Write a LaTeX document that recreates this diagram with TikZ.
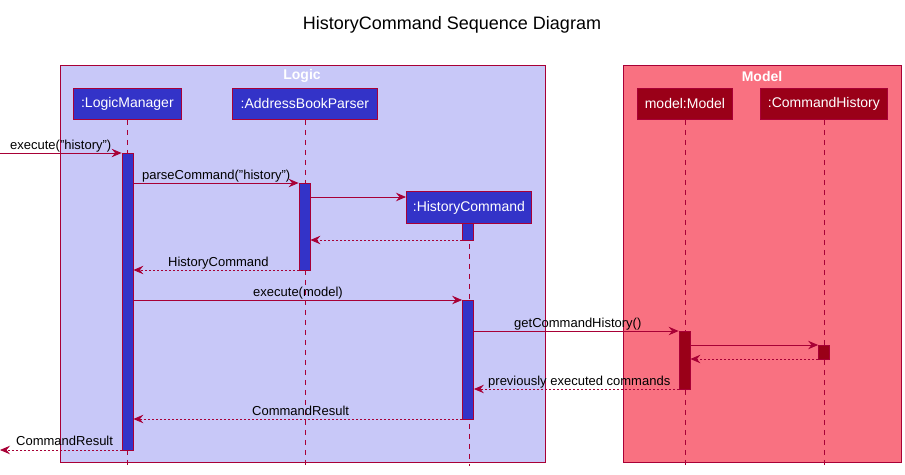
\documentclass[tikz,border=0pt]{standalone}
\usepackage{fontspec}
\setmainfont{Liberation Sans}
\usetikzlibrary{arrows.meta}
\definecolor{crim}{HTML}{A80036}
\definecolor{logicbg}{HTML}{C8C8F8}
\definecolor{modelbg}{HTML}{F97181}
\definecolor{pblue}{HTML}{3333C8}
\definecolor{pred}{HTML}{9A0018}
\tikzset{
  part/.style={draw=crim, line width=0.8pt, text=white, font=\fontsize{14}{16}\selectfont, minimum height=31, inner sep=0pt, anchor=north west},
  partL/.style={part, fill=pblue},
  partM/.style={part, fill=pred},
  grp/.style={draw=crim, line width=0.8pt, anchor=north west, inner sep=0pt},
  grplabel/.style={text=white, font=\bfseries\fontsize{14}{16}\selectfont},
  life/.style={draw=crim, line width=0.7pt, dash pattern=on 5pt off 5pt},
  actL/.style={draw=crim, line width=0.8pt, fill=pblue, minimum width=11, inner sep=0pt, anchor=north},
  actM/.style={draw=crim, line width=0.8pt, fill=pred, minimum width=11, inner sep=0pt, anchor=north},
  msg/.style={draw=crim, line width=0.8pt, -{Stealth[length=10pt, width=8.5pt, inset=3.5pt]}},
  ret/.style={msg, dash pattern=on 2pt off 2pt},
  lbl/.style={font=\fontsize{13}{15}\selectfont, inner sep=0pt, anchor=base west}
}
\begin{document}
\begin{tikzpicture}[x=1pt,y=-1pt]
\useasboundingbox (0,0) rectangle (905,474);
\node[font=\fontsize{18}{20}\selectfont] (title) at (452,25) {HistoryCommand Sequence Diagram};

% groups
\node[grp, fill=logicbg, minimum width=485, minimum height=397] (logic) at (60,65) {};
\node[grplabel] (logiclbl) at (302,76) {Logic};
\node[grp, fill=modelbg, minimum width=278, minimum height=397] (model) at (623,65) {};
\node[grplabel] (modellbl) at (762,76) {Model};

% participants
\node[partL, minimum width=108] (lm) at (73,88) {:LogicManager};
\node[partL, minimum width=145] (abp) at (232,88) {:AddressBookParser};
\node[partL, minimum width=125, minimum height=32] (hc) at (406,191) {:HistoryCommand};
\node[partM, minimum width=95] (mm) at (637,88) {model:Model};
\node[partM, minimum width=127] (ch) at (760,88) {:CommandHistory};

\coordinate (bot) at (0,466);
\draw[life] (lm.south) -- (lm.south |- bot);
\draw[life] (abp.south) -- (abp.south |- bot);
\draw[life] (hc.south) -- (hc.south |- bot);
\draw[life] (mm.south) -- (mm.south |- bot);
\draw[life] (ch.south) -- (ch.south |- bot);

% activations
\node[actL, minimum height=297] (alm) at (127.5,153) {};
\node[actL, minimum height=87] (aabp) at (304.5,183) {};
\node[actL, minimum height=17] (ahc1) at (468,223) {};
\node[actL, minimum height=119] (ahc2) at (468,300) {};
\node[actM, minimum height=58] (amm) at (684.5,331) {};
\node[actM, minimum height=14] (ach) at (824,345) {};

% message rows
\coordinate (y1) at (0,153);
\coordinate (y2) at (0,183);
\coordinate (y3) at (0,197);
\coordinate (y4) at (0,240);
\coordinate (y5) at (0,270);
\coordinate (y6) at (0,300);
\coordinate (y7) at (0,331);
\coordinate (y8) at (0,345);
\coordinate (y9) at (0,359);
\coordinate (y10) at (0,389);
\coordinate (y11) at (0,419);
\coordinate (y12) at (0,450);
\coordinate (outL) at (0,450);

\draw[msg] (y1) -- (alm.west |- y1);
\node[lbl] (l1) at (10,149) {execute("history")};

\draw[msg] (alm.east |- y2) -- (aabp.west |- y2);
\node[lbl] (l2) at (142,179) {parseCommand("history")};

\draw[msg] (aabp.east |- y3) -- (hc.west |- y3);

\draw[ret] (ahc1.west |- y4) -- (aabp.east |- y4);

\draw[ret] (aabp.west |- y5) -- (alm.east |- y5);
\node[lbl] (l5) at (168,266) {HistoryCommand};

\draw[msg] (alm.east |- y6) -- (ahc2.west |- y6);
\node[lbl] (l6) at (253,296) {execute(model)};

\draw[msg] (ahc2.east |- y7) -- (amm.west |- y7);
\node[lbl] (l7) at (514,327) {getCommandHistory()};

\draw[msg] (amm.east |- y8) -- (ach.west |- y8);
\draw[ret] (ach.west |- y9) -- (amm.east |- y9);

\draw[ret] (amm.west |- y10) -- (ahc2.east |- y10);
\node[lbl] (l10) at (488,385) {previously executed commands};

\draw[ret] (ahc2.west |- y11) -- (alm.east |- y11);
\node[lbl] (l11) at (252,415) {CommandResult};

\draw[ret] (alm.west |- y12) -- (outL);
\node[lbl] (l12) at (16,445) {CommandResult};
\end{tikzpicture}
\end{document}
